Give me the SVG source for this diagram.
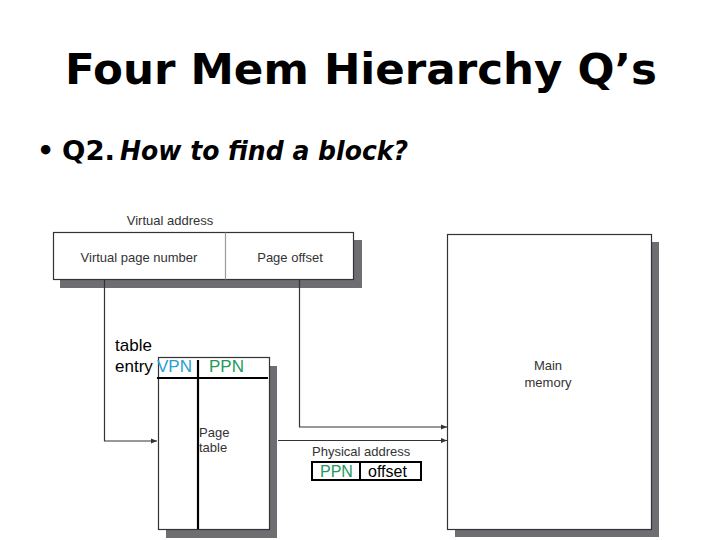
<svg xmlns="http://www.w3.org/2000/svg" width="720" height="540" viewBox="0 0 720 540">
<defs>
<marker id="arr" viewBox="0 0 10 10" refX="10" refY="5" markerWidth="9" markerHeight="6" markerUnits="userSpaceOnUse" orient="auto">
<path d="M0,1 L10,5 L0,9 Z" fill="#333"/>
</marker>
</defs>
<style>
.title{font-family:"DejaVu Sans",Verdana,sans-serif;font-weight:bold;font-size:42px;fill:#000}
.sub{font-family:"DejaVu Sans",Verdana,sans-serif;font-weight:bold;font-size:27px;fill:#000}
.lbl{font-family:"Liberation Sans",Arial,sans-serif;font-size:13px;fill:#333}
.big{font-family:"Liberation Sans",Arial,sans-serif;font-size:17px;fill:#000}
.shadow{fill:#6d6d72}
.box{fill:#fff;stroke:#333;stroke-width:1.2}
.conn{fill:none;stroke:#333;stroke-width:1.2}
.thick{stroke:#000;stroke-width:2.2}
</style>
<rect width="720" height="540" fill="#fff"/>
<text class="title" x="65" y="84" textLength="592" lengthAdjust="spacingAndGlyphs">Four Mem Hierarchy Q’s</text>
<text class="sub" x="37" y="160">•</text>
<text class="sub" x="62" y="160" textLength="53" lengthAdjust="spacingAndGlyphs">Q2.</text>
<text class="sub" x="120" y="160" font-style="italic" textLength="288" lengthAdjust="spacingAndGlyphs">How to find a block?</text>

<g id="virtual-address">
<rect class="shadow" x="60" y="240" width="302" height="48"/>
<rect class="box" x="53.5" y="232.5" width="300" height="47"/>
<line x1="225.5" y1="232.5" x2="225.5" y2="279.5" stroke="#999" stroke-width="1.2"/>
<text class="lbl" x="170" y="225" text-anchor="middle">Virtual address</text>
<text class="lbl" x="139" y="262" text-anchor="middle">Virtual page number</text>
<text class="lbl" x="290" y="262" text-anchor="middle">Page offset</text>
</g>

<g id="page-table">
<rect class="shadow" x="166" y="366" width="111" height="172"/>
<rect class="box" x="158.5" y="357.5" width="111" height="172"/>
<line class="thick" x1="157" y1="378" x2="268" y2="378"/>
<line class="thick" x1="198" y1="360" x2="198" y2="529"/>
<text class="lbl" x="199" y="437">Page</text>
<text class="lbl" x="199" y="452">table</text>
<text class="big" x="115" y="351">table</text>
<text class="big" x="115" y="372">entry</text>
<text class="big" x="157" y="372" style="fill:#2a9fd0">VPN</text>
<text class="big" x="209" y="372" style="fill:#1e9a5e">PPN</text>
</g>

<g id="main-memory">
<rect class="shadow" x="455" y="242" width="204" height="295"/>
<rect class="box" x="447.5" y="234.5" width="204" height="295"/>
<text class="lbl" x="548" y="370" text-anchor="middle">Main</text>
<text class="lbl" x="548" y="387" text-anchor="middle">memory</text>
</g>

<g id="physical-address">
<text class="lbl" x="312" y="456">Physical address</text>
<rect x="312" y="462" width="109" height="18" fill="#fff" stroke="#000" stroke-width="2"/>
<line x1="360" y1="462" x2="360" y2="480" stroke="#000" stroke-width="2"/>
<text x="320" y="477" style="font-family:'Liberation Sans',Arial,sans-serif;font-size:16px;fill:#1e9a5e">PPN</text>
<text x="368" y="477" style="font-family:'Liberation Sans',Arial,sans-serif;font-size:16px;fill:#000">offset</text>
</g>

<g id="connectors">
<path class="conn" d="M104.5,280 V441 H157" marker-end="url(#arr)"/>
<path class="conn" d="M299.5,280 V427 H447" marker-end="url(#arr)"/>
<path class="conn" d="M278,440.5 H447" marker-end="url(#arr)"/>
</g>
</svg>
